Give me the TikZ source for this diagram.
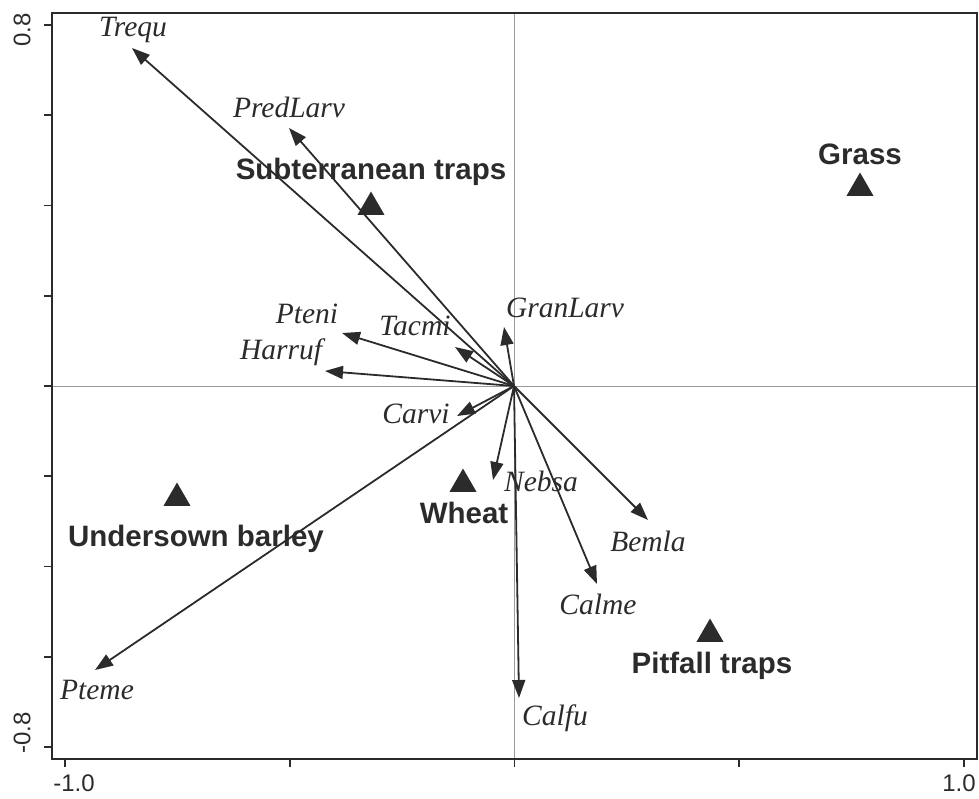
\documentclass[tikz,border=0pt]{standalone}
\usepackage{fontspec}
\setmainfont{Liberation Serif}
\setsansfont{Liberation Sans}
\usetikzlibrary{arrows.meta,shapes.geometric}
\definecolor{ink}{HTML}{2B2B2B}
\definecolor{axg}{HTML}{9A9A9A}
\begin{document}
\begin{tikzpicture}[x=1pt,y=-1pt,
  arr/.style={draw=ink,line width=1.8pt,-{Triangle[length=18pt,width=13pt]}},
  sp/.style={font=\fontsize{29.5}{30}\selectfont\itshape,text=ink,inner sep=0pt},
  grp/.style={font=\fontsize{29.5}{31}\selectfont\sffamily\bfseries,text=ink,inner sep=0pt},
  tri/.style={regular polygon,regular polygon sides=3,fill=ink,minimum size=31pt,inner sep=0pt},
  ax/.style={draw=axg,line width=1pt},
  frm/.style={draw=ink,line width=2.2pt},
  tk/.style={draw=ink,line width=1.6pt},
  num/.style={font=\fontsize{24}{25}\selectfont\sffamily,text=ink,inner sep=0pt}
]
\useasboundingbox (0,0) rectangle (979,798);
% axes through origin
\draw[ax] (514,13) -- (514,759);
\draw[ax] (52,386) -- (977,386);
% frame and ticks
\draw[frm] (52,13) rectangle (977,759);
\foreach \k in {0,...,8} \draw[tk] (44,{25+\k*90.25}) -- (52,{25+\k*90.25});
\foreach \k in {0,...,4} \draw[tk] ({65+\k*224.75},759) -- ({65+\k*224.75},767);
\node[num,rotate=90] (y1) at (22,30) {0.8};
\node[num,rotate=90] (y2) at (22,733) {-0.8};
\node[num] (x1) at (74,783) {-1.0};
\node[num] (x2) at (959,783) {1.0};
% origin and arrow tips
\coordinate (O) at (514,386);
\coordinate (tTrequ) at (132,48);
\coordinate (tPredLarv) at (289,128);
\coordinate (tGranLarv) at (504,327);
\coordinate (tTacmi) at (455,347);
\coordinate (tPteni) at (342,333);
\coordinate (tHarruf) at (325,371);
\coordinate (tCarvi) at (457,416);
\coordinate (tNebsa) at (493,480);
\coordinate (tBemla) at (648,520);
\coordinate (tCalme) at (597,584);
\coordinate (tCalfu) at (519,698);
\coordinate (tPteme) at (95,670);
\foreach \n in {Trequ,PredLarv,GranLarv,Tacmi,Pteni,Harruf,Carvi,Nebsa,Bemla,Calme,Calfu,Pteme}
  \draw[arr] (O) -- (t\n);
% species labels
\node[sp] (lTrequ) at (133,30) {Trequ};
\node[sp] (lPredLarv) at (289,107) {PredLarv};
\node[sp] (lGranLarv) at (565,308) {GranLarv};
\node[sp] (lTacmi) at (415,326) {Tacmi};
\node[sp] (lPteni) at (307,314) {Pteni};
\node[sp] (lHarruf) at (281,352) {Harruf};
\node[sp] (lCarvi) at (416,414) {Carvi};
\node[sp] (lNebsa) at (541,481) {Nebsa};
\node[sp] (lBemla) at (648,541) {Bemla};
\node[sp] (lCalme) at (598,604) {Calme};
\node[sp] (lCalfu) at (555,718) {Calfu};
\node[sp] (lPteme) at (97,690) {Pteme};
% group triangles
\node[tri] (gSub) at (371,207) {};
\node[tri] (gGrass) at (860,188) {};
\node[tri] (gWheat) at (463,484) {};
\node[tri] (gUnder) at (177,498) {};
\node[tri] (gPit) at (710,634) {};
% group labels
\node[grp] (lSub) at (371,172) {Subterranean traps};
\node[grp] (lGrass) at (860,154) {Grass};
\node[grp] (lWheat) at (464,513) {Wheat};
\node[grp] (lUnder) at (196,539) {Undersown barley};
\node[grp] (lPit) at (712,666) {Pitfall traps};
\end{tikzpicture}
\end{document}
